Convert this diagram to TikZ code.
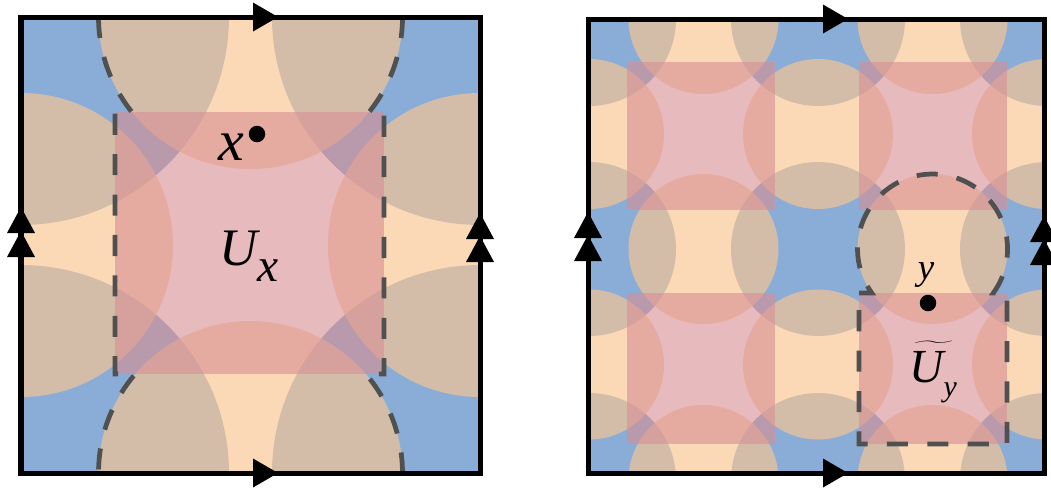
\documentclass[tikz,border=0pt]{standalone}
\usepackage{graphicx}
\usepackage{fontspec}
\newfontfamily\tnr{Liberation Serif}
\definecolor{cblue}{RGB}{137,173,214}
\definecolor{cpeach}{RGB}{250,198,146}
\definecolor{cpink}{RGB}{216,143,148}
\definecolor{cdash}{RGB}{80,80,80}
\tikzset{
  cornerdisk/.style={fill=cblue},
  edgedisk/.style={fill=cpeach, fill opacity=0.66},
  pinksq/.style={fill=cpink, fill opacity=0.61},
  dashline/.style={draw=cdash, line width=2.7pt, dash pattern=on 12pt off 11pt},
  frameline/.style={draw=black, line width=2.85pt},
  arrowtip/.style={fill=black},
  dotnode/.style={circle, fill=black, inner sep=0pt, minimum size=0.33cm},
  lab/.style={inner sep=0pt, font=\tnr\itshape},
}
\begin{document}
\begin{tikzpicture}[x=0.02cm, y=-0.02cm]
\useasboundingbox (0,0) rectangle (1051,495);
\fill[white] (0,0) rectangle (1051,495);

% ---------------- left panel ----------------
\begin{scope}
  \clip (21,17) rectangle (480,473);
  \foreach \p in {(21,17),(480,17),(21,473),(480,473)}
    \fill[cornerdisk] \p circle[radius=208];
  \foreach \p in {(250.5,17),(250.5,473),(21,245),(480,245)}
    \fill[edgedisk] \p circle[radius=152];
  \fill[pinksq] (115,112) rectangle (384,374);
\end{scope}
\draw[dashline] (98.5,17) arc[start angle=180, end angle=141.3, radius=152]
  -- (115,112) -- (115,374) -- (135.2,374)
  arc[start angle=220.65, end angle=180, radius=152];
\draw[dashline] (402.5,17) arc[start angle=0, end angle=38.7, radius=152]
  -- (384,112) -- (384,374) -- (365.8,374)
  arc[start angle=-40.65, end angle=0, radius=152];
\draw[frameline] (21,17) rectangle (480,473);
\fill[arrowtip] (278,17) -- (253,2.5) -- (253,31.5) -- cycle;
\fill[arrowtip] (278,473) -- (253,458.5) -- (253,487.5) -- cycle;
\fill[arrowtip] (21,207) -- (7,233) -- (35,233) -- cycle;
\fill[arrowtip] (21,231) -- (7,257) -- (35,257) -- cycle;
\fill[arrowtip] (480,213) -- (466,239) -- (494,239) -- cycle;
\fill[arrowtip] (480,236) -- (466,262) -- (494,262) -- cycle;

\node[dotnode] (xdot) at (257,134) {};
\node[lab, font=\tnr\itshape\fontsize{33}{40}\selectfont] (xlab) at (231,147) {x};
\node[lab, anchor=base west] (Ux) at (219,265)
  {\fontsize{30}{36}\selectfont U\raisebox{-9.5pt}{\fontsize{27}{32}\selectfont x}};

% ---------------- right panel ----------------
\begin{scope}
  \clip (588,19) rectangle (1044,473);
  \foreach \xx in {589,818,1047}
    \foreach \yy in {19,249,480}
      \fill[cornerdisk] (\xx,\yy) circle[radius=87];
  \foreach \xx in {703.5,932.5}
    \foreach \yy in {19,249,480}
      \fill[edgedisk] (\xx,\yy) circle[radius=75];
  \foreach \xx in {589,818,1047}
    \foreach \yy in {134,364.5}
      \fill[edgedisk] (\xx,\yy) circle[radius=75];
  \fill[pinksq] (627,62) rectangle (775,210);
  \fill[pinksq] (859,62) rectangle (1007,210);
  \fill[pinksq] (627,293) rectangle (775,444);
  \fill[pinksq] (859,293) rectangle (1007,444);
\end{scope}
\draw[dashline] (859,293) -- (871.8,293)
  arc[start angle=144.1, end angle=395.9, radius=75]
  -- (1007,293) -- (1007,444) -- (859,444) -- cycle;
\draw[frameline] (588,19) rectangle (1044,473);
\fill[arrowtip] (848,19) -- (823,4.5) -- (823,33.5) -- cycle;
\fill[arrowtip] (848,473) -- (823,458.5) -- (823,487.5) -- cycle;
\fill[arrowtip] (588,212) -- (574,238) -- (602,238) -- cycle;
\fill[arrowtip] (588,235) -- (574,261) -- (602,261) -- cycle;
\fill[arrowtip] (1044,216) -- (1030,242) -- (1058,242) -- cycle;
\fill[arrowtip] (1044,239) -- (1030,265) -- (1058,265) -- cycle;

\node[dotnode] (ydot) at (928,303) {};
\node[lab, font=\tnr\itshape\fontsize{21}{24}\selectfont, anchor=base] (ylab) at (926,279) {y};
\node[lab, anchor=base west] (Uy) at (909,382)
  {\fontsize{27}{32}\selectfont\makebox[0pt][l]{\raisebox{1pt}{\scalebox{1.45}[1.1]{$\widetilde{\phantom{U}}$}}}U\raisebox{-8pt}{\fontsize{17}{20}\selectfont y}};
\end{tikzpicture}
\end{document}
